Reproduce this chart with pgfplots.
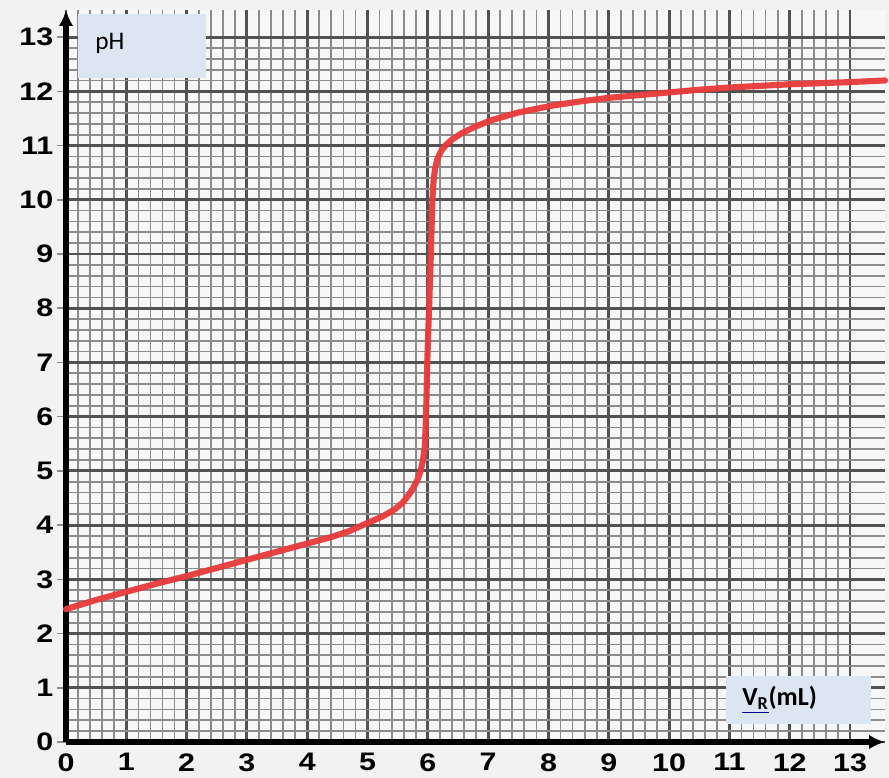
\documentclass[border=0pt]{standalone}
\usepackage{fontspec}
\setmainfont{Liberation Sans}
\newfontfamily\tickfont[FakeStretch=1.2]{Liberation Sans}
\newfontfamily\calib{Carlito}
\usepackage{pgfplots}
\pgfplotsset{compat=1.18}
\usetikzlibrary{arrows.meta}
\definecolor{bgout}{RGB}{242,242,242}
\definecolor{cellbg}{RGB}{247,247,247}
\definecolor{majgrid}{RGB}{82,82,82}
\definecolor{mingrid}{RGB}{140,140,140}
\definecolor{curve}{RGB}{234,58,58}
\definecolor{boxblue}{RGB}{220,230,242}
\pgfplotstableread{
x y
0 2.45
0.5 2.62
1 2.77
1.5 2.92
2 3.06
2.5 3.21
3 3.36
3.5 3.51
4 3.66
4.4 3.78
4.7 3.89
5.0 4.04
5.25 4.16
5.45 4.29
5.58 4.41
5.68 4.55
5.76 4.69
5.83 4.84
5.88 5.00
5.92 5.20
5.95 5.45
5.97 6.0
5.99 7.0
6.02 8.0
6.05 9.0
6.07 9.8
6.08 10.1
6.095 10.35
6.12 10.58
6.16 10.76
6.22 10.9
6.30 11.01
6.40 11.11
6.55 11.22
6.75 11.33
7.03 11.46
7.5 11.61
8.08 11.74
8.5 11.81
9.0 11.88
9.5 11.93
10.0 11.98
10.5 12.03
11.0 12.07
11.5 12.10
12.0 12.13
12.5 12.15
13.0 12.17
13.58 12.20
}\titration
\begin{document}
\begin{tikzpicture}
\fill[bgout] (-49.5pt,-27pt) rectangle (617.25pt,556.5pt);
\begin{axis}[
  scale only axis,
  width=614.25pt, height=549pt,
  xmin=0, xmax=13.58, ymin=0, ymax=13.5,
  axis lines=left,
  axis line style={line width=3.8pt, -{Latex[length=12pt,width=11pt]}},
  axis background/.style={fill=cellbg},
  xtick={0,1,...,13}, ytick={0,1,...,13},
  minor tick num=4,
  grid=both,
  major grid style={majgrid, line width=2.2pt},
  minor grid style={mingrid, line width=1.3pt},
  tick align=outside,
  major tick length=7pt,
  minor tick length=0pt,
  tick style={mingrid, line width=1.2pt},
  minor tick style={draw=none},
  x tick style={draw=none},
  /pgf/number format/assume math mode=true,
  ticklabel style={font=\tickfont\bfseries\fontsize{19}{21}\selectfont, text=black},
  xticklabel style={yshift=2pt},
  yticklabel style={xshift=1pt},
  clip=false,
]
\addplot[curve, line width=4.6pt, line join=round, line cap=round, opacity=0.95] table[x=x,y=y] {\titration};
\fill[boxblue] (rel axis cs:0.0147,0.907) rectangle (rel axis cs:0.171,0.9945);
\node[anchor=west, font=\calib\fontsize{19}{21}\selectfont] at (rel axis cs:0.03,0.955) {pH};
\fill[boxblue] (rel axis cs:0.806,0.0246) rectangle (rel axis cs:0.983,0.0902);
\node[anchor=west, font=\calib\bfseries\fontsize{19.5}{21}\selectfont] at (rel axis cs:0.82,0.058)
  {{\color{blue!60!black}\underline{\color{black}V\textsubscript{R}}}(mL)};
\end{axis}
\pgfresetboundingbox
\path (-49.5pt,-27pt) rectangle (617.25pt,556.5pt);
\end{tikzpicture}
\end{document}
